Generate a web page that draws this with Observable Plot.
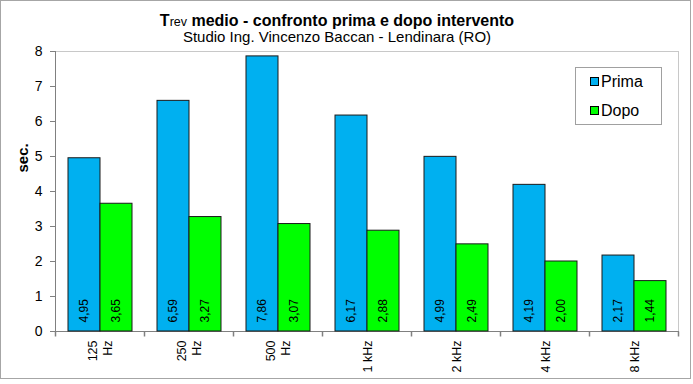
<!DOCTYPE html>
<html>
<head>
<meta charset="utf-8">
<script src="https://cdn.jsdelivr.net/npm/d3@7"></script>
<script src="https://cdn.jsdelivr.net/npm/@observablehq/plot@0.6"></script>
<style>
  body { margin: 0; background: #fff; }
  #wrap { position: relative; width: 693px; height: 384px; font-family: Arial, "Liberation Sans", sans-serif; color: #000; }
  #wrap svg { position: absolute; left: 0; top: 0; }
  #border { position: absolute; left: 0; top: 0; width: 689px; height: 377px; border: 1px solid #a6a6a6; pointer-events: none; }
  #title { position: absolute; left: 0; width: 674px; top: 12px; text-align: center; font-size: 16px; line-height: 18px; font-weight: bold; white-space: nowrap; }
  #title .sub { font-weight: normal; font-size: 12.5px; }
  #subtitle { position: absolute; left: 0; width: 674px; top: 29px; text-align: center; font-size: 15px; line-height: 16px; white-space: nowrap; }
  #legend { position: absolute; left: 575px; top: 67px; width: 87px; height: 58px; box-sizing: border-box; border: 1px solid #a0a0a0; background: #fff; }
  .item { position: absolute; left: 14px; font-size: 16px; line-height: 18px; white-space: nowrap; }
  .sw { display: inline-block; width: 7px; height: 7px; border: 1px solid #000; margin-right: 2px; vertical-align: 1px; }
  g[aria-label="values"] text { letter-spacing: 1px; }
</style>
</head>
<body>
<div id="wrap">
  <div id="title">T<span class="sub">rev</span> medio - confronto prima e dopo intervento</div>
  <div id="subtitle">Studio Ing. Vincenzo Baccan - Lendinara (RO)</div>
</div>
<script>
const categories = ["125 Hz", "250 Hz", "500 Hz", "1 kHz", "2 kHz", "4 kHz", "8 kHz"];
const tickLabels = ["125\nHz", "250\nHz", "500\nHz", "1 kHz", "2 kHz", "4 kHz", "8 kHz"];
const series = ["Prima", "Dopo"];
const prima = [4.95, 6.59, 7.86, 6.17, 4.99, 4.19, 2.17];
const dopo = [3.65, 3.27, 3.07, 2.88, 2.49, 2.00, 1.44];
const yTicks = [0, 1, 2, 3, 4, 5, 6, 7, 8];
const colors = ["#00B0F0", "#00FF00"];
const yLabel = "sec.";

const data = categories.flatMap((c, i) => [
  {cat: c, series: series[0], value: prima[i]},
  {cat: c, series: series[1], value: dopo[i]}
]);
const fmt = v => v.toFixed(2).replace(".", ",");
const tickSym = {draw(ctx) { ctx.moveTo(0, 0); ctx.lineTo(0, 5); }};

const chart = Plot.plot({
  width: 693,
  height: 384,
  marginLeft: 53,
  marginRight: 13,
  marginTop: 51,
  marginBottom: 53,
  style: {fontFamily: "Arial, 'Liberation Sans', sans-serif", fontSize: "12px", color: "#000", background: "transparent"},
  fx: {domain: categories, padding: 0, axis: null, label: null},
  x: {domain: series, paddingInner: 0, paddingOuter: 0.38, axis: null, label: null},
  y: {domain: [0, 8], axis: null},
  color: {domain: series, range: colors},
  marks: [
    Plot.frame({anchor: "top", stroke: "#c8c8c8"}),
    Plot.frame({anchor: "right", facetAnchor: "right", stroke: "#c8c8c8"}),
    Plot.frame({anchor: "bottom", stroke: "#808080"}),
    Plot.frame({anchor: "left", facetAnchor: "left", stroke: "#808080"}),
    Plot.axisY(yTicks, {tickSize: 5, tickPadding: 8, stroke: "#808080", fill: "#000", fontSize: 14, label: null}),
    Plot.dot(categories, {fx: d => d, frameAnchor: "bottom-left", symbol: tickSym, stroke: "#808080", fill: "none"}),
    Plot.dot([categories[categories.length - 1]], {fx: d => d, frameAnchor: "bottom-right", symbol: tickSym, stroke: "#808080", fill: "none"}),
    Plot.barY(data, {fx: "cat", x: "series", y: "value", fill: "series", stroke: "#1a1a1a", strokeWidth: 1}),
    Plot.text(data, {fx: "cat", x: "series", y: 0, text: d => fmt(d.value), rotate: -90, textAnchor: "start", dy: -9, fontSize: 12, fill: "#000", ariaLabel: "values"}),
    Plot.text(categories, {fx: d => d, text: tickLabels, frameAnchor: "bottom", rotate: -90, textAnchor: "end", lineAnchor: "middle", lineHeight: 1.15, dy: 9, fontSize: 12.5, fill: "#000"}),
    Plot.text([categories[0]], {fx: d => d, text: [yLabel], frameAnchor: "left", rotate: -90, dx: -32, dy: -19, fontSize: 15, fontWeight: "bold", fill: "#000"})
  ]
});

const wrap = document.getElementById("wrap");
wrap.insertBefore(chart, wrap.firstChild);

const border = document.createElement("div");
border.id = "border";
wrap.appendChild(border);

const legend = document.createElement("div");
legend.id = "legend";
series.forEach((s, i) => {
  const item = document.createElement("div");
  item.className = "item";
  item.style.top = (i === 0 ? 5 : 34) + "px";
  const sw = document.createElement("span");
  sw.className = "sw";
  sw.style.background = colors[i];
  item.appendChild(sw);
  item.appendChild(document.createTextNode(s));
  legend.appendChild(item);
});
wrap.appendChild(legend);
</script>
</body>
</html>
